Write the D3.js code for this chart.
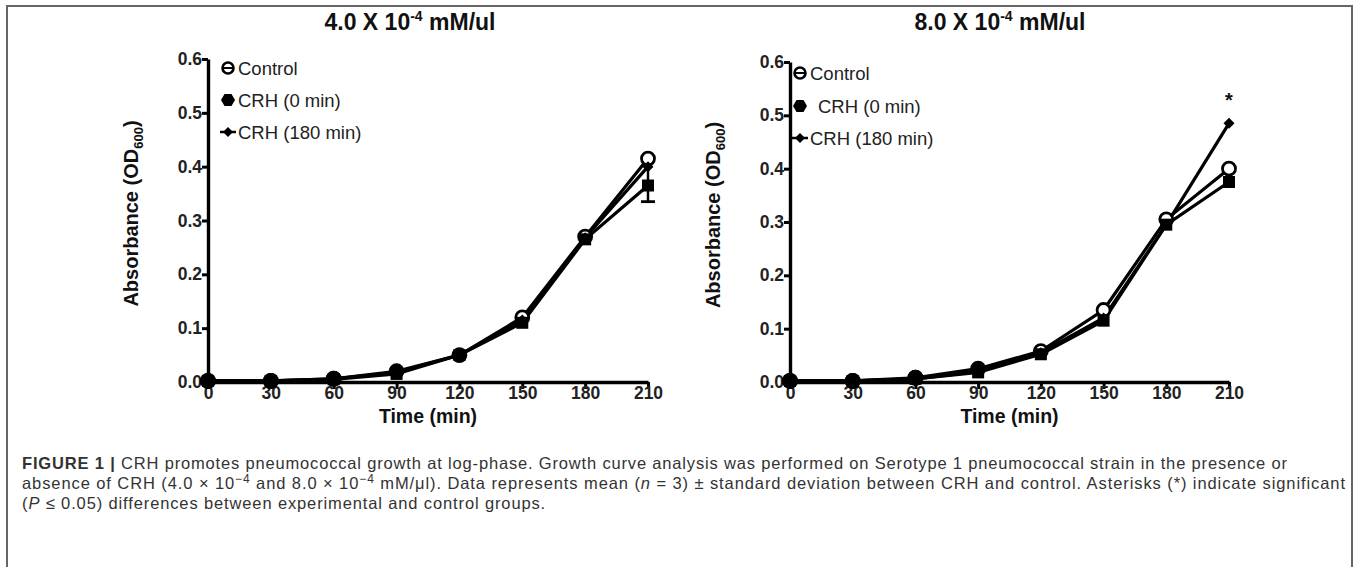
<!DOCTYPE html>
<html><head><meta charset="utf-8">
<script src="https://cdn.jsdelivr.net/npm/d3@7"></script>
<style>
body{margin:0;background:#fff;}
svg{display:block;}
</style></head>
<body>
<svg id="fig" width="1357" height="567"></svg>
<script>
// ---- data ----
const times = [0, 30, 60, 90, 120, 150, 180, 210];
const yTicks = [0.0, 0.1, 0.2, 0.3, 0.4, 0.5, 0.6];
const seriesNames = ["Control", "CRH (0 min)", "CRH (180 min)"];
const panelTitles = ["4.0 X 10", "8.0 X 10"];

// Panel A: 4.0 x 10^-4 mM/ul
const a_control = [0.002, 0.002, 0.006, 0.020, 0.050, 0.120, 0.270, 0.415];
const a_crh0    = [0.002, 0.002, 0.005, 0.015, 0.050, 0.110, 0.265, 0.365];
const a_crh180  = [0.002, 0.002, 0.006, 0.018, 0.050, 0.115, 0.268, 0.400];
const a_crh0_sd = [0, 0, 0, 0, 0, 0, 0, 0.030];

// Panel B: 8.0 x 10^-4 mM/ul
const b_control = [0.002, 0.002, 0.008, 0.025, 0.058, 0.135, 0.305, 0.400];
const b_crh0    = [0.002, 0.002, 0.006, 0.018, 0.052, 0.115, 0.295, 0.375];
const b_crh180  = [0.002, 0.002, 0.006, 0.020, 0.055, 0.120, 0.295, 0.485];
const b_signif  = [210]; // asterisk positions

const FONT = "Liberation Sans, Arial, sans-serif";
const svg = d3.select("#fig");

// frame
svg.append("path").attr("d","M7,567 L7,6 L1352,6 L1352,567")
  .attr("fill","none").attr("stroke","#666").attr("stroke-width",2);

const panels = [
  {title: panelTitles[0], data:[a_control,a_crh0,a_crh180], sd:[null,a_crh0_sd,null],
   x0:208, x1:648, yTop:59, yBot:382, cx:410, legX:228, legY:[68,100,132], legIndent:[0,0,0], star:[]},
  {title: panelTitles[1], data:[b_control,b_crh0,b_crh180], sd:[null,null,null],
   x0:790, x1:1229, yTop:62, yBot:382, cx:1000, legX:800, legY:[73,106,138], legIndent:[0,8,0], star:b_signif}
];

function marker(g, type, x, y){
  if(type===0){
    g.append("circle").attr("cx",x).attr("cy",y).attr("r",6.5)
      .attr("fill","#fff").attr("stroke","#000").attr("stroke-width",2.8);
  } else if(type===1){
    g.append("rect").attr("x",x-6).attr("y",y-6).attr("width",12).attr("height",12)
      .attr("fill","#000");
  } else {
    g.append("path").attr("d",`M${x},${y-5.5} L${x+5.5},${y} L${x},${y+5.5} L${x-5.5},${y} Z`).attr("fill","#000");
  }
}

panels.forEach(p=>{
  const g = svg.append("g");
  const x = d3.scaleLinear().domain([0,210]).range([p.x0,p.x1]);
  const y = d3.scaleLinear().domain([0,0.6]).range([p.yBot,p.yTop]);

  // title
  const t = g.append("text").attr("x",p.cx).attr("y",30).attr("text-anchor","middle")
    .attr("font-family",FONT).attr("font-weight","bold")
    .attr("font-size",23).attr("fill","#111");
  t.append("tspan").text(p.title);
  t.append("tspan").attr("font-size",14).attr("dy",-9).text("-4");
  t.append("tspan").attr("dy",9).text(" mM/ul");

  // axes
  const yAxis = g.append("g").attr("transform",`translate(${p.x0},0)`)
    .call(d3.axisLeft(y).tickValues(yTicks).tickFormat(d3.format(".1f")).tickSize(6).tickSizeOuter(0));
  const xAxis = g.append("g").attr("transform",`translate(0,${p.yBot})`)
    .call(d3.axisBottom(x).tickValues(times).tickFormat(d3.format("d")).tickSize(7).tickSizeOuter(0));
  [yAxis,xAxis].forEach(ax=>{
    ax.select(".domain").attr("stroke","#000").attr("stroke-width",3.4);
    ax.selectAll(".tick line").attr("stroke","#000").attr("stroke-width",3);
    ax.selectAll("text").attr("font-family",FONT)
      .attr("font-weight","bold").attr("font-size",17.5).attr("fill","#222");
  });
  yAxis.selectAll(".tick text").attr("x",-6);
  xAxis.selectAll(".tick text").attr("y",5);

  // axis labels
  const yl = g.append("text").attr("transform",`translate(${p.x0-70},${(p.yTop+p.yBot)/2-7}) rotate(-90)`)
    .attr("text-anchor","middle").attr("font-family",FONT)
    .attr("font-weight","bold").attr("font-size",20).attr("fill","#111");
  yl.append("tspan").text("Absorbance (OD");
  yl.append("tspan").attr("font-size",13).attr("dy",5).text("600");
  yl.append("tspan").attr("dy",-5).text(")");
  g.append("text").attr("x",(p.x0+p.x1)/2).attr("y",p.yBot+41).attr("text-anchor","middle")
    .attr("font-family",FONT).attr("font-weight","bold")
    .attr("font-size",19.5).attr("fill","#111").text("Time (min)");

  // lines
  const line = d3.line().x((d,i)=>x(times[i])).y(d=>y(d));
  p.data.forEach((s,k)=>{
    g.append("path").datum(s).attr("d",line).attr("fill","none")
      .attr("stroke","#000").attr("stroke-width",3.2);
  });
  // error bars
  p.sd.forEach((sd,k)=>{
    if(!sd) return;
    sd.forEach((e,i)=>{
      if(!e) return;
      const v = p.data[k][i];
      g.append("line").attr("x1",x(times[i])).attr("x2",x(times[i]))
        .attr("y1",y(v-e)).attr("y2",y(v+e)).attr("stroke","#000").attr("stroke-width",2.5);
      [v-e].forEach(w=>g.append("line").attr("x1",x(times[i])-7).attr("x2",x(times[i])+7)
        .attr("y1",y(w)).attr("y2",y(w)).attr("stroke","#000").attr("stroke-width",2.8));
    });
  });
  // markers
  p.data.forEach((s,k)=>{
    s.forEach((v,i)=>marker(g,k,x(times[i]),y(v)));
  });
  // early points look like solid dots (overlap)
  times.slice(0,4).forEach((tm,i)=>{
    g.append("circle").attr("cx",x(tm)).attr("cy",y(p.data[0][i])).attr("r",i<3?8:7).attr("fill","#000");
  });

  // asterisk
  p.star.forEach(tm=>{
    const i = times.indexOf(tm);
    const v = d3.max(p.data, s=>s[i]);
    g.append("text").attr("x",x(tm)).attr("y",y(v)-16).attr("text-anchor","middle")
      .attr("font-family",FONT).attr("font-weight","bold")
      .attr("font-size",20).attr("fill","#111").text("*");
  });

  // legend
  seriesNames.forEach((nm,k)=>{
    const ly = p.legY[k];
    if(k===0){
      g.append("circle").attr("cx",p.legX).attr("cy",ly).attr("r",5.5).attr("fill","#fff")
        .attr("stroke","#000").attr("stroke-width",2.6);
      g.append("line").attr("x1",p.legX-5).attr("x2",p.legX+5).attr("y1",ly).attr("y2",ly)
        .attr("stroke","#000").attr("stroke-width",2);
    } else if(k===1){
      g.append("path").attr("d",`M${p.legX-7},${ly} L${p.legX-3.5},${ly-6} L${p.legX+3.5},${ly-6} L${p.legX+7},${ly} L${p.legX+3.5},${ly+6} L${p.legX-3.5},${ly+6} Z`).attr("fill","#000");
    } else {
      g.append("line").attr("x1",p.legX-8).attr("x2",p.legX+8).attr("y1",ly).attr("y2",ly)
        .attr("stroke","#000").attr("stroke-width",2.5);
      g.append("path").attr("d",`M${p.legX},${ly-5} L${p.legX+5},${ly} L${p.legX},${ly+5} L${p.legX-5},${ly} Z`).attr("fill","#000");
    }
    g.append("text").attr("x",p.legX+10+p.legIndent[k]).attr("y",ly+6.5)
      .attr("font-family",FONT).attr("font-size",18.5)
      .attr("fill","#222").text(nm);
  });
});

// caption
const cap = svg.append("g").attr("font-family",FONT)
  .attr("font-size",16.5).attr("fill","#333");
const l1 = cap.append("text").attr("x",22).attr("y",469);
l1.append("tspan").attr("font-weight","bold").text("FIGURE 1 | ");
l1.append("tspan").text("CRH promotes pneumococcal growth at log-phase. Growth curve analysis was performed on Serotype 1 pneumococcal strain in the presence or");
const l2 = cap.append("text").attr("x",22).attr("y",489);
l2.append("tspan").text("absence of CRH (4.0 × 10");
l2.append("tspan").attr("font-size",12).attr("dy",-6).text("−4");
l2.append("tspan").attr("dy",6).text(" and 8.0 × 10");
l2.append("tspan").attr("font-size",12).attr("dy",-6).text("−4");
l2.append("tspan").attr("dy",6).text(" mM/μl). Data represents mean (");
l2.append("tspan").attr("font-style","italic").text("n");
l2.append("tspan").text(" = 3) ± standard deviation between CRH and control. Asterisks (*) indicate significant");
const l3 = cap.append("text").attr("x",22).attr("y",509);
l3.append("tspan").text("(");
l3.append("tspan").attr("font-style","italic").text("P");
l3.append("tspan").text(" ≤ 0.05) differences between experimental and control groups.");

// stretch caption lines to the reference's line widths with letter spacing
function spread(sel, targetRight){
  const node = sel.node();
  const w = node.getComputedTextLength();
  const n = node.textContent.length;
  const ls = (targetRight - 22 - w) / (n - 1);
  sel.attr("letter-spacing", ls);
  return ls;
}
const ls1 = spread(l1, 1287);
const ls2 = spread(l2, 1345);
l3.attr("letter-spacing", (ls1 + ls2) / 2);
</script>
</body></html>
